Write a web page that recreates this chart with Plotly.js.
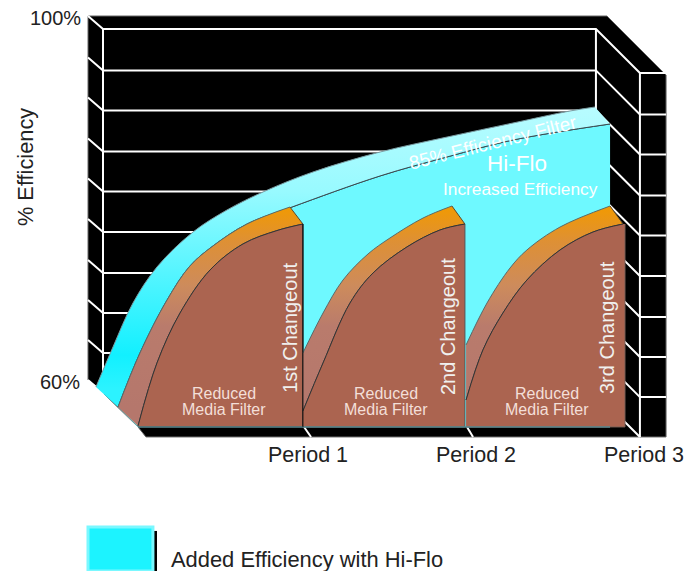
<!DOCTYPE html>
<html>
<head>
<meta charset="utf-8">
<script src="https://cdn.plot.ly/plotly-3.0.1.min.js"></script>
<style>html,body{margin:0;padding:0;background:#fff}#chart{width:697px;height:571px}</style>
</head>
<body>
<div id="chart"></div>
<script>
// Wall levels (% efficiency on the outer left edge)
var gridLevels = [100, 95.45, 91.05, 86.54, 82.14, 77.69, 73.19, 68.79, 64.39, 60];
var tickLabels = ['Period 1', 'Period 2', 'Period 3'];
var tickPeriods = [1.047, 2.082, 3.117];

// 85% efficiency filter / Hi-Flo envelope
var hiFloOuterP = [-0.259, -0.154, -0.031, 0.117, 0.339, 0.548, 0.770, 1.078, 1.491, 1.904, 2.310, 2.661, 2.815];
var hiFloOuterE = [59.23, 63.63, 68.46, 72.42, 76.26, 78.68, 80.66, 82.86, 85.05, 86.70, 88.24, 89.56, 90.00];
var hiFloInnerP = [-0.123, 0.012, 0.179, 0.320, 0.462, 0.671, 0.949, 1.491, 1.904, 2.310, 2.908];
var hiFloInnerE = [57.03, 62.97, 68.79, 72.53, 74.73, 77.14, 79.01, 82.42, 84.51, 86.37, 88.13];

// Media filter sawtooth, one pair of edges for each changeout
var media1OuterP = [-0.123, 0.012, 0.179, 0.320, 0.462, 0.671, 0.936];
var media1OuterE = [57.03, 62.97, 68.79, 72.53, 74.73, 77.14, 79.01];
var media1InnerP = [0, 0.117, 0.259, 0.444, 0.647, 0.856, 1.016];
var media1InnerE = [54.95, 61.87, 67.36, 72.09, 74.95, 76.42, 77.14];
var media2OuterP = [1.016, 1.140, 1.263, 1.417, 1.552, 1.756, 1.934];
var media2OuterE = [62.97, 67.36, 70.99, 73.85, 75.60, 77.80, 79.12];
var media2InnerP = [1.016, 1.140, 1.306, 1.448, 1.657, 1.860, 2.014];
var media2InnerE = [56.59, 61.87, 68.46, 71.76, 74.62, 76.48, 77.14];
var media3OuterP = [2.021, 2.150, 2.292, 2.396, 2.600, 2.908];
var media3OuterE = [63.85, 68.46, 72.31, 74.29, 76.81, 79.12];
var media3InnerP = [2.021, 2.125, 2.248, 2.396, 2.600, 2.803, 2.988];
var media3InnerE = [57.80, 63.30, 67.36, 70.99, 74.29, 76.26, 77.14];

var BASE = 54.84, FLOOR = 53.74;
var P_OUT_L = -0.308, P_BACK_L = -0.2156, P_BACK_R = 2.821, P_FRONT_R = 3.092, P_OUT_R = 3.253;
var BACK_SHIFT = 1.43, FRONT_SHIFT = 4.84;
var BROWN = '#ab6450', WHITE = '#ffffff';

var traces = [];
function poly(x, y, fill, line) {
  traces.push({x: x, y: y, mode: 'lines', fill: 'toself', fillcolor: fill,
    line: {color: line || fill, width: line ? 1 : 0}, hoverinfo: 'skip', showlegend: false});
}
function stroke(x, y, color, width) {
  traces.push({x: x, y: y, mode: 'lines', line: {color: color, width: width}, hoverinfo: 'skip', showlegend: false});
}
// Filled strip: previous trace is the first edge, this one the second edge.
function edge(x, y, color, width, shape) {
  traces.push({x: x, y: y, mode: 'lines', line: {color: color, width: width, shape: shape || 'spline', smoothing: 1},
    hoverinfo: 'skip', showlegend: false});
}
function edgeFill(x, y, color, width, fillSpec) {
  var t = {x: x, y: y, mode: 'lines', fill: 'tonexty', line: {color: color, width: width, shape: 'spline', smoothing: 1},
    hoverinfo: 'skip', showlegend: false};
  if (fillSpec.gradient) t.fillgradient = {type: 'vertical', start: fillSpec.start, stop: fillSpec.stop, colorscale: fillSpec.gradient};
  else t.fillcolor = fillSpec;
  traces.push(t);
}

// Black tray
poly([P_OUT_L, 2.889, 3.234, P_OUT_R, P_OUT_R, 0.049, 0, -0.123, -0.259, P_OUT_L, P_OUT_L],
     [100, 100, 93.85, 93.52, FLOOR, FLOOR, BASE, 57.03, 59.34, 60, 100], '#000000', '#666666');

// White wall grid
var gx = [], gy = [];
gridLevels.forEach(function (L, i) {
  var b = L - BACK_SHIFT, f = b - FRONT_SHIFT;
  gx.push(P_OUT_L, P_BACK_L, P_BACK_R, P_FRONT_R); gy.push(L, b, b, f);
  if (i < gridLevels.length - 1) { gx.push(P_OUT_R); gy.push(f); }
  gx.push(null); gy.push(null);
});
gx.push(P_BACK_L, P_BACK_L, null, P_BACK_R, P_BACK_R, null, P_FRONT_R, P_FRONT_R);
gy.push(100 - BACK_SHIFT, 59.45, null, 100 - BACK_SHIFT, 89, null, 100 - BACK_SHIFT - FRONT_SHIFT, FLOOR);
stroke(gx, gy, WHITE, 2);
// floor ticks
stroke([1.023, 1.066, null, 2.027, 2.064], [BASE, FLOOR, null, BASE, FLOOR], WHITE, 2);

// Hi-Flo front face
edge([-0.123, 0, 2.908, 2.908], [57.03, BASE, BASE, 88.13], '#6ef9ff', 0, 'linear');
edgeFill(hiFloInnerP, hiFloInnerE, '#3a4a50', 1, '#6ef9ff');

// 85% efficiency filter band
edge(hiFloInnerP, hiFloInnerE, '#3a4a50', 1);
edgeFill(hiFloOuterP, hiFloOuterE, '#7a9aa0', 1, {
  start: 59, stop: 90,
  gradient: [[0, '#2cf3ff'], [0.12, '#12f0ff'], [0.7, '#98faff'], [1, '#b8fcff']]
});

// Media filter panels
var orange = {start: 57, stop: 79.2,
  gradient: [[0, '#b5776c'], [0.4, '#b97b6c'], [0.6, '#cd8b5c'], [0.82, '#de9035'], [1, '#f29a00']]};
function panel(oP, oE, iP, iE, right, left, rightEdge) {
  // sloped band
  edge(iP, iE, '#444444', 1);
  edgeFill(oP, oE, '#5a6a6a', 1, orange);
  // brown face
  edge([left, right, right], [BASE, BASE, iE[iE.length - 1]], rightEdge, 1, 'linear');
  edgeFill(iP, iE, '#333333', 1, BROWN);
}
panel(media1OuterP, media1OuterE, media1InnerP, media1InnerE, 1.016, 0, '#111111');
panel(media2OuterP, media2OuterE, media2InnerP, media2InnerE, 2.014, 1.016, '#555555');
panel(media3OuterP, media3OuterE, media3InnerP, media3InnerE, 3.0, 2.021, '#7a6058');
// band closing edges and the base line
stroke([0.936, 1.016], [79.01, 77.14], '#5a4a30', 1);
stroke([1.934, 2.014], [79.12, 77.14], '#5a4a30', 1);
stroke([2.908, 2.988], [79.12, 77.14], '#5a4a30', 1);
stroke([0, 2.908], [BASE, BASE], '#5a8a90', 1.5);
stroke([1.016, 1.016], [BASE, 77.14], '#111111', 1);

// Legend swatch
poly([0.117, 0.095, 0.095, 0.117, 0.117], [39.01, 39.01, 43.41, 43.41, 39.01], '#000000');
poly([-0.308, 0.092, 0.092, -0.308, -0.308], [39.01, 39.01, 43.85, 43.85, 39.01], '#1cf3ff', '#7af8ff');
traces[traces.length - 1].line.width = 3;

var FONT = 'Liberation Sans, Arial, sans-serif';
function note(text, x, y, size, color, extra) {
  var a = {text: text, x: x, y: y, xref: 'x', yref: 'y', showarrow: false, borderpad: 0,
    font: {family: FONT, size: size, color: color}};
  for (var k in extra || {}) a[k] = extra[k];
  return a;
}
var INK = '#222222', PALE = '#f3dfd8';
var annotations = [
  note('100%', -0.345, 99.78, 20, INK, {xanchor: 'right'}),
  note('60%', -0.350, 59.78, 20, INK, {xanchor: 'right'}),
  note('% Efficiency', -0.696, 83.40, 21.8, INK, {textangle: -90}),
  note('1st Changeout', 0.936, 65.82, 20, '#f0f0ee', {textangle: -90}),
  note('2nd Changeout', 1.910, 65.82, 20, '#f0f0ee', {textangle: -90}),
  note('3rd Changeout', 2.889, 65.82, 20, '#f0f0ee', {textangle: -90}),
  note('Reduced', 0.530, 58.57, 16, PALE), note('Media Filter', 0.530, 56.81, 16, PALE),
  note('Reduced', 1.528, 58.57, 16, PALE), note('Media Filter', 1.528, 56.81, 16, PALE),
  note('Reduced', 2.520, 58.57, 16, PALE), note('Media Filter', 2.520, 56.81, 16, PALE),
  note('85% Efficiency Filter', 2.187, 86.05, 19, WHITE, {textangle: -14}),
  note('Hi-Flo', 2.335, 83.74, 22.5, WHITE),
  note('Increased Efficiency', 2.359, 80.99, 17.3, WHITE),
  note('Added Efficiency with Hi-Flo', 0.197, 40.22, 21.9, INK, {xanchor: 'left'})
];
tickLabels.forEach(function (t, i) { annotations.push(note(t, tickPeriods[i], 51.76, 21.5, INK)); });

var layout = {
  width: 697, height: 571,
  margin: {l: 0, r: 0, t: 0, b: 0, pad: 0},
  paper_bgcolor: '#ffffff', plot_bgcolor: '#ffffff',
  showlegend: false,
  xaxis: {range: [-0.8501, 3.4436], visible: false, fixedrange: true},
  yaxis: {range: [39.01, 101.758], visible: false, fixedrange: true},
  annotations: annotations
};
Plotly.newPlot('chart', traces, layout, {displayModeBar: false, staticPlot: true});
</script>
</body>
</html>
